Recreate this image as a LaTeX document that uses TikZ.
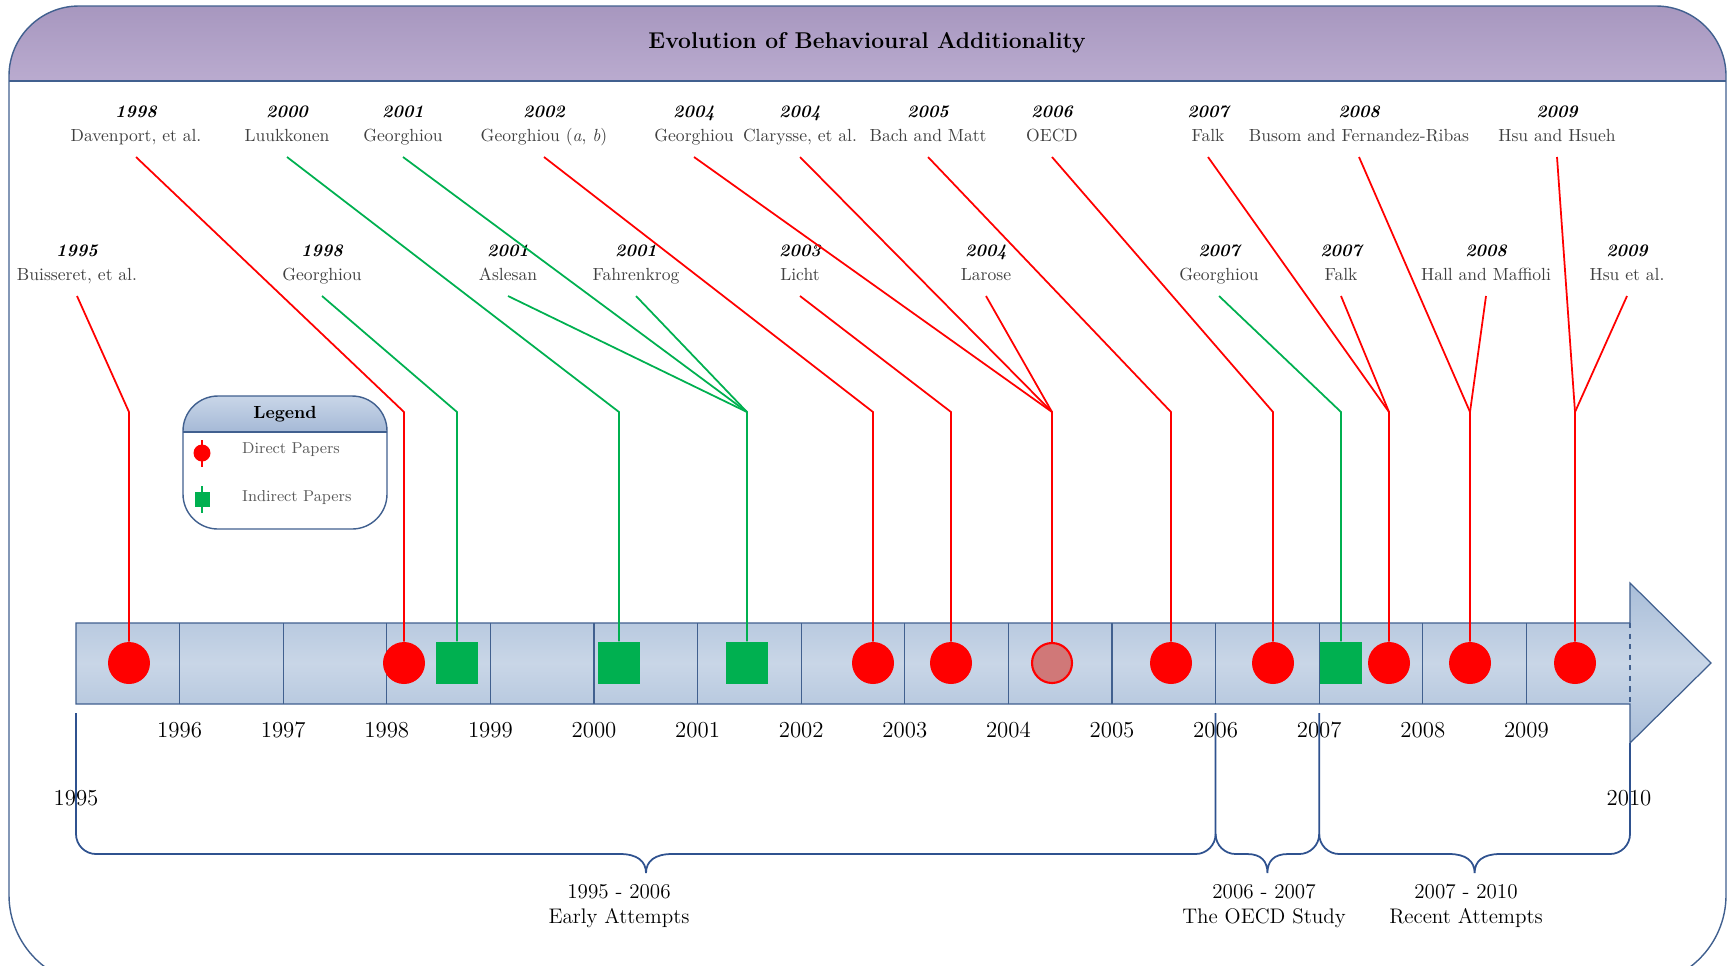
\documentclass[tikz,border=0pt]{standalone}
\definecolor{titletop}{HTML}{A797BF}
\definecolor{titlebot}{HTML}{BAABCF}
\definecolor{frameblue}{HTML}{41608F}
\definecolor{barA}{HTML}{A8BDD8}
\definecolor{barB}{HTML}{C9D6E7}
\definecolor{paperGreen}{HTML}{00B050}
\definecolor{pinkdot}{HTML}{D07878}
\definecolor{namegray}{HTML}{404040}
\definecolor{leggray}{HTML}{595959}
\definecolor{legtop}{HTML}{C9D6E8}
\definecolor{legbot}{HTML}{A5B9D6}
\definecolor{braceblue}{HTML}{2F528F}
\newcommand{\pyear}[1]{{\color{black}\bfseries\itshape #1}}
\begin{document}
\begin{tikzpicture}[x=0.02cm,y=-0.02cm,
  paper/.style={align=center,anchor=south,inner xsep=0pt,inner ysep=4.4pt,
    font=\fontsize{10}{13.7}\selectfont,text=namegray},
  redline/.style={draw=red,line width=1pt},
  greenline/.style={draw=paperGreen,line width=1pt},
  direct/.style={circle,fill=red,inner sep=0pt,minimum size=0.84cm},
  indirect/.style={rectangle,fill=paperGreen,inner sep=0pt,minimum size=0.85cm},
  barline/.style={draw=frameblue,line width=0.7pt},
  yearlbl/.style={font=\fontsize{13}{15}\selectfont},
  brace/.style={draw=braceblue,line width=1pt}]
\clip (0,0) rectangle (1733,965);
\useasboundingbox (0,0) rectangle (1733,965);
%%% frame and title band
\begin{scope}
\clip[rounded corners=1.4cm] (9,6) rectangle (1726,300);
\shade[top color=titletop,bottom color=titlebot] (9,6) rectangle (1726,81);
\end{scope}
\draw[frameblue,line width=0.8pt] (866,985) [rounded corners=1.8cm] -- (1726,985)
   [rounded corners=1.4cm] -- (1726,6) -- (9,6) [rounded corners=1.8cm] -- (9,985) -- cycle;
\draw[frameblue,line width=0.8pt] (9,81) -- (1726,81);
\node[font=\bfseries\fontsize{13}{15}\selectfont] (title) at (867,43) {Evolution of Behavioural Additionality};
%%% the time bar
\begin{scope}
\clip (76,623) -- (1630,623) -- (1630,583) -- (1711,663) -- (1630,743) -- (1630,704) -- (76,704) -- cycle;
\shade[top color=barA,bottom color=barB] (70,580) rectangle (1715,663.5);
\shade[top color=barB,bottom color=barA] (70,663) rectangle (1715,746);
\end{scope}
\draw[barline] (76,623) -- (1630,623) -- (1630,583) -- (1711,663) -- (1630,743) -- (1630,704) -- (76,704) -- cycle;
\draw[barline] (179.6,623) -- (179.6,704);
\draw[barline] (283.2,623) -- (283.2,704);
\draw[barline] (386.8,623) -- (386.8,704);
\draw[barline] (490.4,623) -- (490.4,704);
\draw[barline] (594,623) -- (594,704);
\draw[barline] (697.6,623) -- (697.6,704);
\draw[barline] (801.2,623) -- (801.2,704);
\draw[barline] (904.8,623) -- (904.8,704);
\draw[barline] (1008.4,623) -- (1008.4,704);
\draw[barline] (1112,623) -- (1112,704);
\draw[barline] (1215.6,623) -- (1215.6,704);
\draw[barline] (1319.2,623) -- (1319.2,704);
\draw[barline] (1422.8,623) -- (1422.8,704);
\draw[barline] (1526.4,623) -- (1526.4,704);
\draw[barline,dashed] (1630,623) -- (1630,704);
%%% years
\node[yearlbl] (y95) at (76,798) {1995};
\node[yearlbl] (y96) at (179.6,730) {1996};
\node[yearlbl] (y97) at (283.2,730) {1997};
\node[yearlbl] (y98) at (386.8,730) {1998};
\node[yearlbl] (y99) at (490.4,730) {1999};
\node[yearlbl] (y00) at (594,730) {2000};
\node[yearlbl] (y01) at (697.6,730) {2001};
\node[yearlbl] (y02) at (801.2,730) {2002};
\node[yearlbl] (y03) at (904.8,730) {2003};
\node[yearlbl] (y04) at (1008.4,730) {2004};
\node[yearlbl] (y05) at (1112,730) {2005};
\node[yearlbl] (y06) at (1215.6,730) {2006};
\node[yearlbl] (y07) at (1319.2,730) {2007};
\node[yearlbl] (y08) at (1422.8,730) {2008};
\node[yearlbl] (y09) at (1526.4,730) {2009};
\node[yearlbl] (y10) at (1629,798) {2010};
%%% markers on the bar
\node[direct] (m95) at (129,663) {};
\node[direct] (m98) at (404,663) {};
\node[indirect] (g98) at (457,663) {};
\node[indirect] (g00) at (619,663) {};
\node[indirect] (g01) at (747,663) {};
\node[direct] (m02) at (873,663) {};
\node[direct] (m03) at (951,663) {};
\node[direct,fill=pinkdot,draw=red,line width=1.2pt,minimum size=0.8cm] (m04) at (1052,663) {};
\node[direct] (m05) at (1171,663) {};
\node[direct] (m06) at (1273,663) {};
\node[indirect] (g07) at (1341,663) {};
\node[direct] (m07) at (1389,663) {};
\node[direct] (m08) at (1470,663) {};
\node[direct] (m09) at (1575,663) {};
%%% the papers, first row
\node[paper] (davenport) at (136,157) {\pyear{1998}\\Davenport, et al.\strut};
\node[paper] (luukkonen) at (287,157) {\pyear{2000}\\Luukkonen\strut};
\node[paper] (georghiouA) at (403,157) {\pyear{2001}\\Georghiou\strut};
\node[paper] (georghiouB) at (544,157) {\pyear{2002}\\Georghiou (\textit{a}, \textit{b})\strut};
\node[paper] (georghiouC) at (694,157) {\pyear{2004}\\Georghiou\strut};
\node[paper] (clarysse) at (800,157) {\pyear{2004}\\Clarysse, et al.\strut};
\node[paper] (bach) at (928,157) {\pyear{2005}\\Bach and Matt\strut};
\node[paper] (oecd) at (1052,157) {\pyear{2006}\\OECD\strut};
\node[paper] (falkA) at (1208,157) {\pyear{2007}\\Falk\strut};
\node[paper] (busom) at (1359,157) {\pyear{2008}\\Busom and Fernandez-Ribas\strut};
\node[paper] (hsuA) at (1557,157) {\pyear{2009}\\Hsu and Hsueh\strut};
%%% second row
\node[paper] (buisseret) at (77,296) {\pyear{1995}\\Buisseret, et al.\strut};
\node[paper] (georghiouD) at (322,296) {\pyear{1998}\\Georghiou\strut};
\node[paper] (aslesan) at (508,296) {\pyear{2001}\\Aslesan\strut};
\node[paper] (fahrenkrog) at (636,296) {\pyear{2001}\\Fahrenkrog\strut};
\node[paper] (licht) at (800,296) {\pyear{2003}\\Licht\strut};
\node[paper] (larose) at (986,296) {\pyear{2004}\\Larose\strut};
\node[paper] (georghiouE) at (1219,296) {\pyear{2007}\\Georghiou\strut};
\node[paper] (falkB) at (1341,296) {\pyear{2007}\\Falk\strut};
\node[paper] (hall) at (1486,296) {\pyear{2008}\\Hall and Maffioli\strut};
\node[paper] (hsuB) at (1627,296) {\pyear{2009}\\Hsu et al.\strut};
%%% elbows
\coordinate (e95) at (129,412);
\coordinate (e98) at (404,412);
\coordinate (eg98) at (457,412);
\coordinate (eg00) at (619,412);
\coordinate (eg01) at (747,412);
\coordinate (e02) at (873,412);
\coordinate (e03) at (951,412);
\coordinate (e04) at (1052,412);
\coordinate (e05) at (1171,412);
\coordinate (e06) at (1273,412);
\coordinate (eg07) at (1341,412);
\coordinate (e07) at (1389,412);
\coordinate (e08) at (1470,412);
\coordinate (e09) at (1575,412);
%%% connectors
\draw[redline] (buisseret.south) -- (e95) -- (m95);
\draw[redline] (davenport.south) -- (e98) -- (m98);
\draw[greenline] (georghiouD.south) -- (eg98) -- (g98);
\draw[greenline] (luukkonen.south) -- (eg00) -- (g00);
\draw[greenline] (georghiouA.south) -- (eg01) -- (g01);
\draw[greenline] (aslesan.south) -- (eg01);
\draw[greenline] (fahrenkrog.south) -- (eg01);
\draw[redline] (georghiouB.south) -- (e02) -- (m02);
\draw[redline] (licht.south) -- (e03) -- (m03);
\draw[redline] (georghiouC.south) -- (e04) -- (m04);
\draw[redline] (clarysse.south) -- (e04);
\draw[redline] (larose.south) -- (e04);
\draw[redline] (bach.south) -- (e05) -- (m05);
\draw[redline] (oecd.south) -- (e06) -- (m06);
\draw[greenline] (georghiouE.south) -- (eg07) -- (g07);
\draw[redline] (falkA.south) -- (e07) -- (m07);
\draw[redline] (falkB.south) -- (e07);
\draw[redline] (busom.south) -- (e08) -- (m08);
\draw[redline] (hall.south) -- (e08);
\draw[redline] (hsuA.south) -- (e09) -- (m09);
\draw[redline] (hsuB.south) -- (e09);
%%% legend
\begin{scope}
\clip[rounded corners=0.7cm] (183,396) rectangle (387,529);
\shade[top color=legtop,bottom color=legbot] (183,396) rectangle (387,432);
\end{scope}
\draw[frameblue,line width=0.8pt,rounded corners=0.7cm] (183,396) rectangle (387,529);
\draw[frameblue,line width=0.8pt] (183,432) -- (387,432);
\node[font=\bfseries\fontsize{10}{12}\selectfont] (legend) at (285,414) {Legend};
\draw[redline] (202,440) -- (202,467);
\node[direct,minimum size=0.34cm] (ldirect) at (202,453) {};
\draw[greenline] (202,486) -- (202,513);
\node[indirect,minimum size=0.3cm] (lindirect) at (202,499) {};
\node[anchor=west,font=\fontsize{9}{11}\selectfont,text=leggray] (ldirtxt) at (236,450) {Direct Papers};
\node[anchor=west,font=\fontsize{9}{11}\selectfont,text=leggray] (lindtxt) at (236,498) {Indirect Papers};
%%% braces
\draw[brace] (76,713) -- (76,834) .. controls (76,845) and (85,854) .. (96,854) -- (620,854)
   .. controls (637,854) and (646,861) .. (646,873) .. controls (646,861) and (655,854) .. (672,854)
   -- (1195.6,854) .. controls (1206.6,854) and (1215.6,845) .. (1215.6,834) -- (1215.6,713);
\draw[brace] (1215.6,834) .. controls (1215.6,845) and (1224.6,854) .. (1235.6,854) -- (1247,854)
   .. controls (1261,854) and (1267.4,861) .. (1267.4,873) .. controls (1267.4,861) and (1274,854) .. (1288,854)
   -- (1299.2,854) .. controls (1310.2,854) and (1319.2,845) .. (1319.2,834) -- (1319.2,713);
\draw[brace] (1319.2,834) .. controls (1319.2,845) and (1328.2,854) .. (1339.2,854) -- (1449,854)
   .. controls (1466,854) and (1474.6,861) .. (1474.6,873) .. controls (1474.6,861) and (1483,854) .. (1500,854)
   -- (1610,854) .. controls (1621,854) and (1630,845) .. (1630,834) -- (1630,743);
\node[align=center,font=\fontsize{12}{14.2}\selectfont] (early) at (619,906) {1995 - 2006\\Early Attempts};
\node[align=center,font=\fontsize{12}{14.2}\selectfont] (oecdstudy) at (1264,906) {2006 - 2007\\The OECD Study};
\node[align=center,font=\fontsize{12}{14.2}\selectfont] (recent) at (1466,906) {2007 - 2010\\Recent Attempts};
\end{tikzpicture}
\end{document}
